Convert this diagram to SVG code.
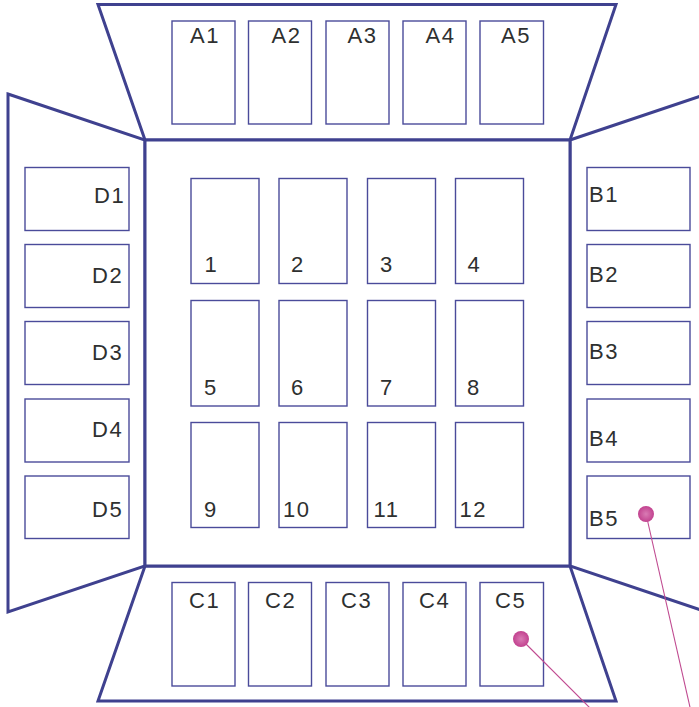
<svg xmlns="http://www.w3.org/2000/svg" width="699" height="707" viewBox="0 0 699 707">
<style>
.flap{fill:#fff;stroke:#3f418f;stroke-width:3;stroke-linejoin:miter}
.box{fill:#fff;stroke:#4a4b9a;stroke-width:1.4}
.lbl{font-family:"Liberation Sans",Arial,sans-serif;font-size:22px;fill:#2e3030;letter-spacing:1.5px}
.lead{stroke:#c04a90;stroke-width:1.1;fill:none}
.dot{fill:url(#pg)}
</style>
<defs>
<radialGradient id="pg" cx="0.5" cy="0.5" r="0.5">
<stop offset="0" stop-color="#d97bb4"/>
<stop offset="1" stop-color="#c2428f"/>
</radialGradient>
</defs>
<rect width="699" height="707" fill="#fff"/>
<g id="frame">
<polygon class="flap" points="98,4.5 616,4.5 570,140 145,140"/>
<polygon class="flap" points="8,94 145,140 145,566 8,612"/>
<polygon class="flap" points="145,566 570,566 616,701 98,701"/>
<polygon class="flap" points="570,140 707,94 707,612 570,566"/>
<rect class="flap" x="145" y="140" width="425" height="426"/>
</g>
<g id="A1"><rect class="box" x="172" y="21" width="63" height="103"/><text class="lbl" x="190" y="43">A1</text></g>
<g id="A2"><rect class="box" x="248.5" y="21" width="63" height="103"/><text class="lbl" x="271.5" y="43">A2</text></g>
<g id="A3"><rect class="box" x="326" y="21" width="63" height="103"/><text class="lbl" x="347.5" y="43">A3</text></g>
<g id="A4"><rect class="box" x="403" y="21" width="63" height="103"/><text class="lbl" x="425.5" y="43">A4</text></g>
<g id="A5"><rect class="box" x="480" y="21" width="63.5" height="103"/><text class="lbl" x="501" y="43">A5</text></g>
<g id="C1"><rect class="box" x="172" y="582.5" width="63" height="103.5"/><text class="lbl" x="189" y="608">C1</text></g>
<g id="C2"><rect class="box" x="248.5" y="582.5" width="63" height="103.5"/><text class="lbl" x="265" y="608">C2</text></g>
<g id="C3"><rect class="box" x="326" y="582.5" width="63" height="103.5"/><text class="lbl" x="341" y="608">C3</text></g>
<g id="C4"><rect class="box" x="403" y="582.5" width="63" height="103.5"/><text class="lbl" x="419" y="608">C4</text></g>
<g id="C5"><rect class="box" x="480" y="582.5" width="63.5" height="103.5"/><text class="lbl" x="495" y="608">C5</text></g>
<g id="B1"><rect class="box" x="587" y="167.5" width="103" height="63"/><text class="lbl" x="589" y="202">B1</text></g>
<g id="B2"><rect class="box" x="587" y="244.5" width="103" height="63"/><text class="lbl" x="589" y="282">B2</text></g>
<g id="B3"><rect class="box" x="587" y="321.5" width="103" height="63"/><text class="lbl" x="589" y="359">B3</text></g>
<g id="B4"><rect class="box" x="587" y="399" width="103" height="63"/><text class="lbl" x="589" y="446">B4</text></g>
<g id="B5"><rect class="box" x="587" y="476" width="103" height="62.5"/><text class="lbl" x="589" y="526">B5</text></g>
<g id="D1"><rect class="box" x="25" y="167.5" width="104" height="63"/><text class="lbl" x="94" y="203">D1</text></g>
<g id="D2"><rect class="box" x="25" y="244.5" width="104" height="63"/><text class="lbl" x="92" y="283">D2</text></g>
<g id="D3"><rect class="box" x="25" y="321.5" width="104" height="63"/><text class="lbl" x="92" y="360">D3</text></g>
<g id="D4"><rect class="box" x="25" y="399" width="104" height="63"/><text class="lbl" x="92" y="437">D4</text></g>
<g id="D5"><rect class="box" x="25" y="476" width="104" height="62.5"/><text class="lbl" x="92" y="517">D5</text></g>
<g id="n1"><rect class="box" x="191" y="178.5" width="68" height="105"/><text class="lbl" x="204.6" y="272">1</text></g>
<g id="n2"><rect class="box" x="279" y="178.5" width="68" height="105"/><text class="lbl" x="291" y="272">2</text></g>
<g id="n3"><rect class="box" x="367.5" y="178.5" width="68" height="105"/><text class="lbl" x="380" y="272">3</text></g>
<g id="n4"><rect class="box" x="455.5" y="178.5" width="68" height="105"/><text class="lbl" x="467.5" y="272">4</text></g>
<g id="n5"><rect class="box" x="191" y="300.5" width="68" height="105.5"/><text class="lbl" x="204" y="395">5</text></g>
<g id="n6"><rect class="box" x="279" y="300.5" width="68" height="105.5"/><text class="lbl" x="291" y="395">6</text></g>
<g id="n7"><rect class="box" x="367.5" y="300.5" width="68" height="105.5"/><text class="lbl" x="380" y="395">7</text></g>
<g id="n8"><rect class="box" x="455.5" y="300.5" width="68" height="105.5"/><text class="lbl" x="467" y="395">8</text></g>
<g id="n9"><rect class="box" x="191" y="422.5" width="68" height="105"/><text class="lbl" x="204" y="517">9</text></g>
<g id="n10"><rect class="box" x="279" y="422.5" width="68" height="105"/><text class="lbl" x="283" y="517">10</text></g>
<g id="n11"><rect class="box" x="367.5" y="422.5" width="68" height="105"/><text class="lbl" x="373.6" y="517">11</text></g>
<g id="n12"><rect class="box" x="455.5" y="422.5" width="68" height="105"/><text class="lbl" x="459.6" y="517">12</text></g>
<g id="connectors">
<line class="lead" x1="646" y1="514" x2="692" y2="716"/>
<line class="lead" x1="521" y1="639" x2="598" y2="716"/>
<circle class="dot" cx="646" cy="514" r="8"/>
<circle class="dot" cx="521" cy="639" r="8"/>
</g>
</svg>
